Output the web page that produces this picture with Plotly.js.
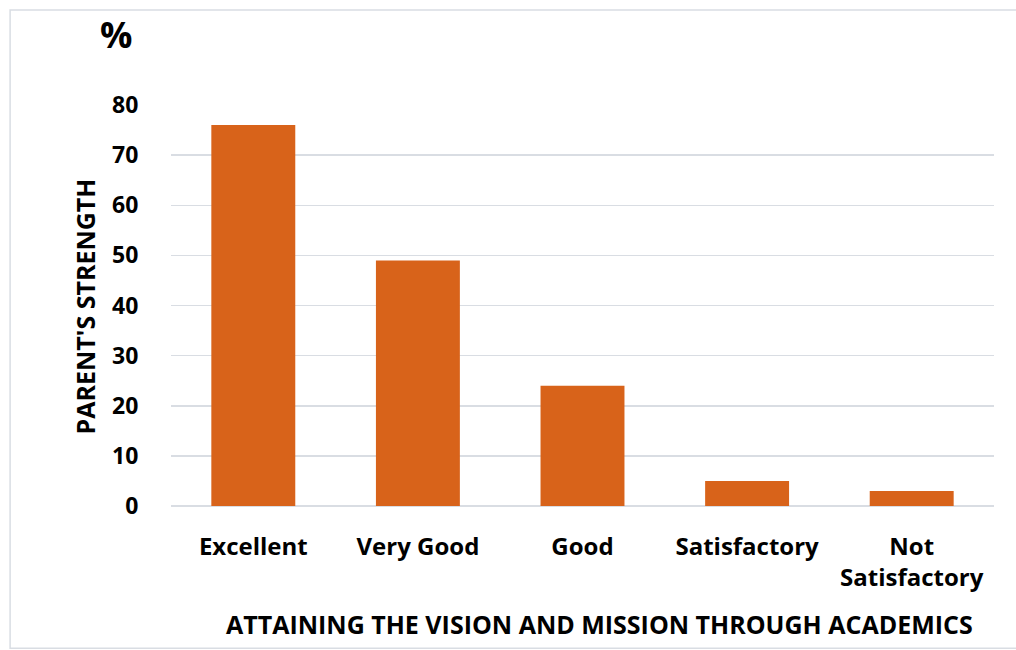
<!DOCTYPE html>
<html>
<head>
<meta charset="utf-8">
<script src="https://cdn.plot.ly/plotly-3.0.1.min.js"></script>
<style>
html,body{margin:0;padding:0;background:#fff;}
#chart{width:1016px;height:650px;}
</style>
</head>
<body>
<div id="chart"></div>
<script>
const categories = ["Excellent", "Very Good", "Good", "Satisfactory", "Not<br>Satisfactory"];
const values = [76, 49, 24, 5, 3];
const yTickVals = [0, 10, 20, 30, 40, 50, 60, 70, 80];
const xTitle = "ATTAINING THE VISION AND MISSION THROUGH ACADEMICS";
const yTitle = "PARENT'S STRENGTH";
const unitLabel = "%";

const FONT = "'Open Sans', sans-serif";

const trace = {
  type: "bar",
  x: categories,
  y: values,
  marker: {color: "#D8631A", line: {width: 0}},
  hoverinfo: "x+y"
};

const layout = {
  width: 1016,
  height: 650,
  margin: {l: 171, r: 22, t: 105, b: 144},
  paper_bgcolor: "#ffffff",
  plot_bgcolor: "#ffffff",
  bargap: 0.49,
  showlegend: false,
  font: {family: FONT, color: "#000", size: 22},
  xaxis: {
    type: "category",
    showgrid: false,
    zeroline: false,
    showline: false,
    ticks: "outside",
    ticklen: 19,
    tickcolor: "rgba(0,0,0,0)",
    tickfont: {family: FONT, size: 24, color: "#000", weight: "bold"}
  },
  yaxis: {
    range: [0, 80],
    tickvals: yTickVals,
    showgrid: true,
    gridcolor: "#D9DDE3",
    gridwidth: 1.5,
    zeroline: true,
    zerolinecolor: "#D9DDE3",
    zerolinewidth: 2.5,
    showline: false,
    ticks: "outside",
    ticklen: 27,
    tickcolor: "rgba(0,0,0,0)",
    tickfont: {family: FONT, size: 23, color: "#000", weight: "bold"}
  },
  annotations: [
    {text: unitLabel, xref: "paper", yref: "paper", x: -0.0668, y: 1.177,
     xanchor: "center", yanchor: "middle", showarrow: false,
     font: {family: FONT, size: 36, color: "#000", weight: "bold"}},
    {text: yTitle, xref: "paper", yref: "paper", x: -0.1045, y: 0.4975,
     xanchor: "center", yanchor: "middle", textangle: -90, showarrow: false,
     font: {family: FONT, size: 25, color: "#000", weight: "bold"}},
    {text: xTitle, xref: "paper", yref: "paper", x: 0.521, y: -0.294,
     xanchor: "center", yanchor: "middle", showarrow: false,
     font: {family: FONT, size: 25, color: "#000", weight: "bold"}}
  ],
  shapes: [
    {type: "rect", xref: "paper", yref: "paper",
     x0: -0.1955, x1: 1.03, y0: -0.355, y1: 1.237,
     line: {color: "#D9DDE3", width: 1.5}, fillcolor: "rgba(0,0,0,0)", layer: "below"}
  ]
};

Plotly.newPlot("chart", [trace], layout, {displayModeBar: false, staticPlot: true});
</script>
</body>
</html>
